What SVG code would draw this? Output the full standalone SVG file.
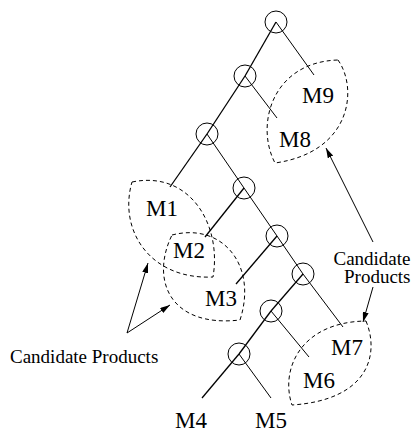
<svg xmlns="http://www.w3.org/2000/svg" width="412" height="432" viewBox="0 0 412 432">
  <defs>
    <marker id="ah" markerUnits="userSpaceOnUse" markerWidth="10" markerHeight="6" refX="10" refY="3" orient="auto">
      <path d="M0,0 L10,3 L0,6 z" fill="#000"/>
    </marker>
    <style>
      .spine { stroke:#000; stroke-width:1.3; fill:none; }
      .edge { stroke:#000; stroke-width:1; fill:none; }
      .op { stroke:#000; stroke-width:1; fill:none; }
      .lens { stroke:#000; stroke-width:1; fill:none; stroke-dasharray:4,3; }
      .arrow { stroke:#000; stroke-width:1; fill:none; marker-end:url(#ah); }
      .lbl { font-size:23px; fill:#000; }
      .note { font-size:19px; fill:#000; }
    </style>
  </defs>
  <rect width="412" height="432" fill="#fff"/>

  <g id="connectors">
    <line class="spine" x1="276" y1="22" x2="245" y2="76"/>
    <line class="spine" x1="245" y1="76" x2="207" y2="134"/>
    <line class="spine" x1="207" y1="134" x2="170" y2="187"/>
    <line class="spine" x1="244" y1="188" x2="205" y2="237"/>
    <line class="spine" x1="277" y1="236" x2="236" y2="284"/>
    <line class="spine" x1="303" y1="274" x2="271" y2="311"/>
    <line class="spine" x1="271" y1="311" x2="239" y2="354"/>
    <line class="spine" x1="239" y1="354" x2="202" y2="398"/>
    <line class="edge" x1="276" y1="22" x2="314" y2="75"/>
    <line class="edge" x1="245" y1="76" x2="277" y2="118"/>
    <line class="edge" x1="207" y1="134" x2="244" y2="188"/>
    <line class="edge" x1="244" y1="188" x2="277" y2="236"/>
    <line class="edge" x1="277" y1="236" x2="303" y2="274"/>
    <line class="edge" x1="303" y1="274" x2="343" y2="327"/>
    <line class="edge" x1="271" y1="311" x2="309" y2="357"/>
    <line class="edge" x1="239" y1="354" x2="271" y2="398"/>
    <line class="arrow" x1="373" y1="242" x2="326" y2="148"/>
    <line class="arrow" x1="373" y1="287" x2="363" y2="322"/>
    <line class="arrow" x1="127" y1="333" x2="148" y2="263"/>
    <line class="arrow" x1="127" y1="333" x2="170" y2="305"/>
  </g>

  <g id="op1"><circle class="op" cx="276" cy="22" r="11"/></g>
  <g id="op2"><circle class="op" cx="245" cy="76" r="11"/></g>
  <g id="op3"><circle class="op" cx="207" cy="134" r="11"/></g>
  <g id="op4"><circle class="op" cx="244" cy="188" r="11"/></g>
  <g id="op5"><circle class="op" cx="277" cy="236" r="11"/></g>
  <g id="op6"><circle class="op" cx="303" cy="274" r="11"/></g>
  <g id="op7"><circle class="op" cx="271" cy="311" r="11"/></g>
  <g id="op8"><circle class="op" cx="239" cy="354" r="11"/></g>

  <g id="lens-m8m9"><path class="lens" d="M338,60 C358,88 352,152 275,163 C255,125 272,62 338,60 Z"/></g>
  <g id="lens-m1m2"><path class="lens" d="M132,182 C190,170 222,225 213,277 C150,280 118,230 132,182 Z"/></g>
  <g id="lens-m2m3"><path class="lens" d="M172,235 C222,222 258,265 240,320 C170,328 150,280 172,235 Z"/></g>
  <g id="lens-m6m7"><path class="lens" d="M366,321 C380,355 368,400 292,405 C280,370 300,322 366,321 Z"/></g>

  <g font-family="Liberation Serif, DejaVu Serif, Times New Roman, serif">
    <g id="M9"><text class="lbl" x="302" y="103">M9</text></g>
    <g id="M8"><text class="lbl" x="279" y="147">M8</text></g>
    <g id="M1"><text class="lbl" x="146" y="216">M1</text></g>
    <g id="M2"><text class="lbl" x="173" y="258">M2</text></g>
    <g id="M3"><text class="lbl" x="205" y="306">M3</text></g>
    <g id="M7"><text class="lbl" x="331" y="355">M7</text></g>
    <g id="M6"><text class="lbl" x="303" y="388">M6</text></g>
    <g id="M4"><text class="lbl" x="175" y="428">M4</text></g>
    <g id="M5"><text class="lbl" x="255" y="428">M5</text></g>

    <g id="note-left"><text class="note" x="10" y="363">Candidate Products</text></g>
    <g id="note-right">
      <text class="note" x="410.5" y="265" text-anchor="end">Candidate</text>
      <text class="note" x="410.5" y="283" text-anchor="end">Products</text>
    </g>
  </g>
</svg>
